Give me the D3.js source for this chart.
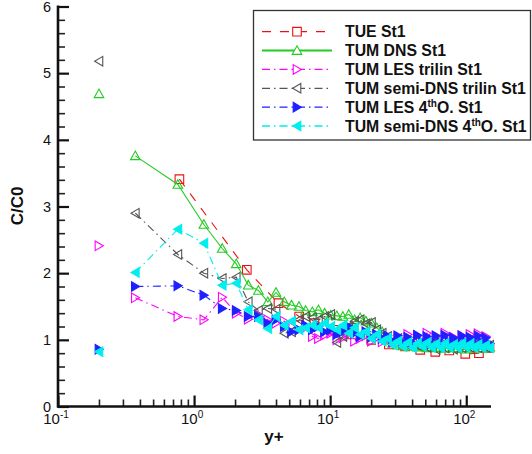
<!DOCTYPE html>
<html><head><meta charset="utf-8">
<script src="https://cdn.jsdelivr.net/npm/d3@7"></script>
<style>body{margin:0;background:#fff} text{font-family:"Liberation Sans",Arial,Helvetica,sans-serif}</style>
</head><body><svg id="c" width="532" height="454"></svg>
<script>
// ---------- data ----------
const yPlus = [0.2,0.37,0.76,1.18,1.61,2.04,2.5,2.97,3.48,4.0,4.6,5.2,5.9,6.6,7.4,8.2,9.1,10.1,11.2,12.4,13.7,15.1,16.6,18.3,20.1,22.0,24.1,26.4,28.8,31.4,34.2,37.2,40.4,43.8,47.5,51.4,55.6,60.0,64.7,69.7,75.0,80.6,86.6,92.9,99.6,106.7,114.2,122.1,130.5,139.3,148.6];
const tueX = [0.78,2.44,4.17,5.92,7.67,10.5,14.5,20,27,35.5,45.9,59.2,75,98.4,124,148];
const tueY = [3.41,2.05,1.55,1.35,1.25,1.15,1.08,1.0,0.93,0.9,0.85,0.82,0.84,0.79,0.80,0.88];
const dnsY = [4.69,3.76,3.33,2.73,2.37,2.14,1.82,1.74,1.57,1.71,1.57,1.52,1.50,1.44,1.42,1.45,1.40,1.37,1.36,1.35,1.38,1.30,1.33,1.28,1.25,1.18,1.12,1.02,0.95,0.92,0.91,0.90,0.92,0.89,0.90,0.88,0.90,0.88,0.89,0.87,0.89,0.88,0.87,0.88,0.86,0.88,0.87,0.88,0.87,0.88,0.89];
const lesTrilinY = [2.41,1.63,1.35,1.30,1.64,1.40,1.31,1.38,1.30,1.25,1.28,1.20,1.15,1.18,1.05,1.02,1.07,1.10,1.00,1.03,1.08,0.98,1.02,1.06,0.98,1.03,0.97,1.02,0.96,1.04,0.95,1.08,0.96,1.06,0.97,1.10,0.98,1.05,0.96,1.10,0.98,1.04,0.96,1.06,0.97,1.08,1.00,1.09,0.97,1.05,0.95];
const semiTrilinY = [5.18,2.90,2.28,2.00,1.92,1.94,1.57,1.44,1.47,1.46,1.10,1.12,1.30,1.35,1.33,1.30,1.35,1.38,0.96,1.05,1.20,1.28,1.30,1.24,1.26,1.15,1.10,1.05,0.95,1.02,0.98,0.93,0.96,0.92,0.95,0.89,0.93,0.86,0.92,0.88,0.91,0.86,0.92,0.88,0.93,0.89,0.92,0.88,0.91,0.89,0.92];
const les4thY = [0.86,1.80,1.81,1.67,1.47,1.44,1.35,1.35,1.25,1.30,1.20,1.12,1.15,1.22,1.15,1.20,1.12,1.15,1.08,1.12,1.20,1.10,1.05,1.12,1.04,1.08,1.02,1.06,0.98,1.06,0.96,1.04,0.95,1.07,0.97,1.05,0.94,1.06,0.96,1.07,0.97,1.03,0.95,1.06,0.96,1.04,0.95,1.06,0.96,1.03,0.94];
const semi4thY = [0.82,2.01,2.66,2.45,1.82,1.85,1.45,1.30,1.17,1.35,1.22,1.28,1.15,1.18,1.22,1.18,1.25,1.20,1.15,1.22,1.10,1.18,1.08,1.12,1.02,1.08,0.98,1.02,0.93,0.98,0.90,0.96,0.88,0.95,0.90,0.96,0.89,0.94,0.88,0.95,0.89,0.93,0.88,0.95,0.89,0.94,0.88,0.93,0.88,0.92,0.88];
const seriesNames = ["TUE St1","TUM DNS St1","TUM LES trilin St1","TUM semi-DNS trilin St1","TUM LES 4thO. St1","TUM semi-DNS 4thO. St1"];
const xMajorTicks = [0.1,1,10,100];
const xTickExponents = ["-1","0","1","2"];
const yMajorTicks = [0,1,2,3,4,5,6];
const xTitle = "y+";
const yTitle = "C/C0";

// ---------- styles ----------
const series = [
  {name:seriesNames[0], xs:tueX,  ys:tueY,        color:"#ee1111", dash:"9,9",          marker:"square", filled:false, skipFirst:false},
  {name:seriesNames[1], xs:yPlus, ys:dnsY,        color:"#22cc22", dash:null,           marker:"up",     filled:false, skipFirst:true},
  {name:seriesNames[2], xs:yPlus, ys:lesTrilinY,  color:"#ff00ff", dash:"8,4,1.5,4",    marker:"right",  filled:false, skipFirst:true},
  {name:seriesNames[3], xs:yPlus, ys:semiTrilinY, color:"#555555", dash:"8,4,1.5,4",    marker:"left",   filled:false, skipFirst:true},
  {name:seriesNames[4], xs:yPlus, ys:les4thY,     color:"#2020ff", dash:"8,4,1.5,4",    marker:"right",  filled:true,  skipFirst:true},
  {name:seriesNames[5], xs:yPlus, ys:semi4thY,    color:"#00eeee", dash:"8,4,1.5,4",    marker:"left",   filled:true,  skipFirst:true}
];

const svg = d3.select("#c");
const x = d3.scaleLog().domain([0.1,152]).range([58,491]);
const y = d3.scaleLinear().domain([0,6]).range([406.5,6.5]);

function markerPath(type){
  const s=4.3;
  if(type==="square") return `M${-s},${-s}H${s}V${s}H${-s}Z`;
  if(type==="up") return `M0,${-s-0.5}L${s+0.5},${s-0.5}L${-s-0.5},${s-0.5}Z`;
  if(type==="right") return `M${s},0L${-s+0.5},${-s-0.5}L${-s+0.5},${s+0.5}Z`;
  if(type==="left") return `M${-s},0L${s-0.5},${-s-0.5}L${s-0.5},${s+0.5}Z`;
}

// ---------- data marks ----------
const plot = svg.append("g");
series.forEach(s=>{
  const pts = s.xs.map((xv,i)=>({x:xv,y:s.ys[i],i}));
  const line = d3.line().defined(d=>!(s.skipFirst && d.i===0)).x(d=>x(d.x)).y(d=>y(d.y));
  plot.append("path").datum(pts).attr("d",line).attr("fill","none")
    .attr("stroke",s.color).attr("stroke-width",1.1)
    .attr("stroke-dasharray",s.dash);
  plot.selectAll(null).data(pts).join("path")
    .attr("transform",d=>`translate(${x(d.x)},${y(d.y)})`)
    .attr("d",markerPath(s.marker))
    .attr("fill",s.filled?s.color:"none")
    .attr("stroke",s.color).attr("stroke-width",1.1);
});

// ---------- axes ----------
const yMinor = d3.range(0,6.0001,0.2).filter(v=>Math.abs(v-Math.round(v))>1e-6);
const xMinor = [];
[0.1,1,10,100].forEach(dec=>{for(let k=2;k<=9;k++){const v=dec*k; if(v<=152) xMinor.push(v);}});

const gy = svg.append("g").attr("transform","translate(58,0)");
gy.append("g").call(d3.axisLeft(y).tickValues(yMinor).tickSize(-7).tickFormat(""))
  .call(g=>{g.select(".domain").remove(); g.selectAll("line").attr("stroke","#222").attr("stroke-width",1.6);});
gy.append("g").call(d3.axisLeft(y).tickValues(yMajorTicks).tickSize(-11).tickPadding(7).tickFormat(d3.format("d")))
  .call(g=>{g.select(".domain").remove(); g.selectAll("line").attr("stroke","#111").attr("stroke-width",2.2);
    g.selectAll("text").attr("font-size",14.5).attr("fill","#111").attr("font-family","Liberation Sans, Arial, sans-serif");});

const gx = svg.append("g").attr("transform","translate(0,406.5)");
gx.append("g").call(d3.axisBottom(x).tickValues(xMinor).tickSize(-7).tickFormat(""))
  .call(g=>{g.select(".domain").remove(); g.selectAll("line").attr("stroke","#222").attr("stroke-width",1.6);});
gx.append("g").call(d3.axisBottom(x).tickValues(xMajorTicks).tickSize(-11).tickFormat(""))
  .call(g=>{g.select(".domain").remove(); g.selectAll("line").attr("stroke","#111").attr("stroke-width",2.2);});
// x labels with superscripts
xMajorTicks.forEach((v,i)=>{
  const t = gx.append("text").attr("x",x(v)-2).attr("y",17).attr("text-anchor","middle")
    .attr("font-size",15).attr("fill","#111");
  t.append("tspan").text("10");
  t.append("tspan").attr("dy",-6).attr("font-size",10).text(xTickExponents[i]);
});

// axis lines
svg.append("line").attr("x1",58).attr("x2",58).attr("y1",5.5).attr("y2",407.5).attr("stroke","#111").attr("stroke-width",2.6);
svg.append("line").attr("x1",57).attr("x2",491).attr("y1",406.5).attr("y2",406.5).attr("stroke","#111").attr("stroke-width",2.6);

// titles
svg.append("text").attr("x",274).attr("y",442).attr("text-anchor","middle")
  .attr("font-size",17).attr("font-weight","bold").attr("fill","#111").text(xTitle);
svg.append("text").attr("transform","translate(23,206) rotate(-90)").attr("text-anchor","middle")
  .attr("font-size",17).attr("font-weight","bold").attr("fill","#111").text(yTitle);

// ---------- legend ----------
const lg = svg.append("g");
lg.append("rect").attr("x",253.5).attr("y",10.5).attr("width",277).attr("height",129.5)
  .attr("fill","#fff").attr("stroke","#333").attr("stroke-width",1.3);
const rowY = d3.scaleLinear().domain([0,5]).range([31.7,126]);
series.forEach((s,i)=>{
  const cy = rowY(i);
  lg.append("line").attr("x1",262).attr("x2",332).attr("y1",cy).attr("y2",cy)
    .attr("stroke",s.color).attr("stroke-width",s.dash?1.3:2).attr("stroke-dasharray",s.dash);
  lg.append("path").attr("transform",`translate(297,${cy})`).attr("d",markerPath(s.marker))
    .attr("fill",s.filled?s.color:"#fff").attr("stroke",s.color).attr("stroke-width",1.1);
  const t = lg.append("text").attr("x",345).attr("y",cy+5.5).attr("font-size",15.8)
    .attr("font-weight","bold").attr("fill","#111");
  const m = s.name.match(/^(.*4)th(O\..*)$/);
  if(m){
    t.append("tspan").text(m[1]);
    t.append("tspan").attr("dy",-6).attr("font-size",10).text("th");
    t.append("tspan").attr("dy",6).text(m[2]);
  } else t.text(s.name);
});
</script></body></html>
